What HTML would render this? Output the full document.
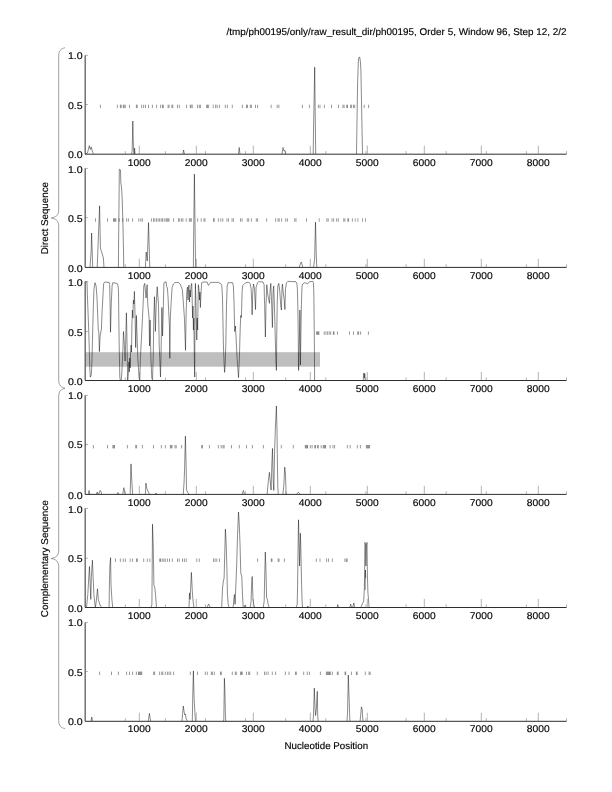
<!DOCTYPE html>
<html><head><meta charset="utf-8"><title>ph00195</title>
<style>
html,body{margin:0;padding:0;background:#fff}
svg{display:block}
text{font-family:"Liberation Sans",Arial,Helvetica,sans-serif;font-size:9.8px;fill:#000;text-rendering:geometricPrecision;stroke:#000;stroke-width:0.15px}
</style></head>
<body>
<svg width="612" height="792" viewBox="0 0 612 792">
<rect width="612" height="792" fill="#fff"/>
<text x="566.5" y="35.4" text-anchor="end" textLength="340" lengthAdjust="spacingAndGlyphs">/tmp/ph00195/only/raw_result_dir/ph00195, Order 5, Window 96, Step 12, 2/2</text>
<g id="panel0">
<path d="M100.4 104.7v3.4M117.4 104.7v3.4M120.4 104.7v3.4M121.2 104.7v3.4M123.3 104.7v3.4M124.1 104.7v3.4M125.3 104.7v3.4M129.5 104.7v3.4M136.4 104.7v3.4M137.2 104.7v3.4M141.6 104.7v3.4M143.6 104.7v3.4M145.5 104.7v3.4M148.5 104.7v3.4M152.4 104.7v3.4M156.6 104.7v3.4M160.6 104.7v3.4M162.5 104.7v3.4M163.3 104.7v3.4M168.1 104.7v3.4M169.1 104.7v3.4M171.8 104.7v3.4M172.8 104.7v3.4M177.5 104.7v3.4M179.3 104.7v3.4M186.5 104.7v3.4M190.3 104.7v3.4M191.1 104.7v3.4M192.3 104.7v3.4M197.5 104.7v3.4M199.3 104.7v3.4M200.4 104.7v3.4M206.6 104.7v3.4M207.5 104.7v3.4M208.6 104.7v3.4M213.2 104.7v3.4M215.6 104.7v3.4M217.1 104.7v3.4M219.4 104.7v3.4M225.3 104.7v3.4M227.4 104.7v3.4M232.3 104.7v3.4M242.4 104.7v3.4M246.5 104.7v3.4M247.5 104.7v3.4M250.3 104.7v3.4M251.4 104.7v3.4M255.5 104.7v3.4M257.6 104.7v3.4M271.2 104.7v3.4M277.2 104.7v3.4M278.9 104.7v3.4M302.4 104.7v3.4M309.4 104.7v3.4M318.4 104.7v3.4M320.0 104.7v3.4M324.4 104.7v3.4M331.5 104.7v3.4M338.5 104.7v3.4M342.9 104.7v3.4M344.1 104.7v3.4M346.7 104.7v3.4M347.5 104.7v3.4M350.6 104.7v3.4M351.6 104.7v3.4M353.5 104.7v3.4M354.7 104.7v3.4M364.2 104.7v3.4M368.6 104.7v3.4" stroke="#000" stroke-width="0.4" fill="none"/>
<polyline points="85.5,154.0 87.5,153.0 89.3,145.6 90.3,149.5 91.3,147.0 92.5,152.0 93.5,153.6" stroke="#000" stroke-width="0.46" fill="none" stroke-linejoin="round"/>
<polyline points="131.6,154.0 132.2,150.0 132.8,121.0 133.5,150.0 134.0,154.0" stroke="#000" stroke-width="0.46" fill="none" stroke-linejoin="round"/>
<polyline points="134.3,154.0 134.6,148.0 135.0,154.0" stroke="#000" stroke-width="0.46" fill="none" stroke-linejoin="round"/>
<polyline points="182.8,154.0 183.6,150.0 184.4,154.0" stroke="#000" stroke-width="0.46" fill="none" stroke-linejoin="round"/>
<polyline points="238.5,154.0 239.2,147.5 240.0,154.0" stroke="#000" stroke-width="0.46" fill="none" stroke-linejoin="round"/>
<polyline points="282.0,154.0 283.0,147.5 284.0,151.0 285.0,150.5 285.6,154.0" stroke="#000" stroke-width="0.46" fill="none" stroke-linejoin="round"/>
<polyline points="313.2,154.0 313.6,126.0 314.7,67.2 315.7,154.0" stroke="#000" stroke-width="0.46" fill="none" stroke-linejoin="round"/>
<polyline points="356.5,154.0 357.6,82.7 358.4,60.0 358.9,57.4 359.8,57.4 360.4,62.0 360.9,70.0 362.5,154.0" stroke="#000" stroke-width="0.46" fill="none" stroke-linejoin="round"/>
<path d="M85.15 55.3V154.2H566.5" stroke="#222" stroke-width="0.95" fill="none"/>
<path d="M85.15 55.3h3M85.15 104.5h3" stroke="#666" stroke-width="0.5" fill="none"/>
<path d="M139.3 154.2v-8.6M196.3 154.2v-8.6M253.3 154.2v-8.6M310.3 154.2v-8.6M367.3 154.2v-8.6M424.3 154.2v-8.6M481.3 154.2v-8.6M538.3 154.2v-8.6M125.3 154.2v-3.1M165.4 154.2v-3.1M205.5 154.2v-3.1M245.6 154.2v-3.1M285.7 154.2v-3.1M325.8 154.2v-3.1M365.9 154.2v-3.1M406.1 154.2v-3.1M446.2 154.2v-3.1M486.3 154.2v-3.1M526.4 154.2v-3.1M566.5 154.2v-3.1" stroke="#666" stroke-width="0.5" fill="none"/>
<text x="82.6" y="59.0" text-anchor="end" textLength="14.7" lengthAdjust="spacingAndGlyphs">1.0</text>
<text x="82.6" y="109.2" text-anchor="end" textLength="14.7" lengthAdjust="spacingAndGlyphs">0.5</text>
<text x="82.6" y="158.0" text-anchor="end" textLength="14.7" lengthAdjust="spacingAndGlyphs">0.0</text>
<text x="139.2" y="165.8" text-anchor="middle" textLength="22.8" lengthAdjust="spacingAndGlyphs">1000</text>
<text x="196.2" y="165.8" text-anchor="middle" textLength="22.8" lengthAdjust="spacingAndGlyphs">2000</text>
<text x="253.2" y="165.8" text-anchor="middle" textLength="22.8" lengthAdjust="spacingAndGlyphs">3000</text>
<text x="310.2" y="165.8" text-anchor="middle" textLength="22.8" lengthAdjust="spacingAndGlyphs">4000</text>
<text x="367.2" y="165.8" text-anchor="middle" textLength="22.8" lengthAdjust="spacingAndGlyphs">5000</text>
<text x="424.2" y="165.8" text-anchor="middle" textLength="22.8" lengthAdjust="spacingAndGlyphs">6000</text>
<text x="481.2" y="165.8" text-anchor="middle" textLength="22.8" lengthAdjust="spacingAndGlyphs">7000</text>
<text x="538.2" y="165.8" text-anchor="middle" textLength="22.8" lengthAdjust="spacingAndGlyphs">8000</text>
</g>
<g id="panel1">
<path d="M95.5 218.3v3.4M107.5 218.3v3.4M113.5 218.3v3.4M114.3 218.3v3.4M115.1 218.3v3.4M115.9 218.3v3.4M119.2 218.3v3.4M122.8 218.3v3.4M126.6 218.3v3.4M128.4 218.3v3.4M132.6 218.3v3.4M138.8 218.3v3.4M140.8 218.3v3.4M142.4 218.3v3.4M151.4 218.3v3.4M153.5 218.3v3.4M154.8 218.3v3.4M156.5 218.3v3.4M158.1 218.3v3.4M159.6 218.3v3.4M161.2 218.3v3.4M162.5 218.3v3.4M164.2 218.3v3.4M166.0 218.3v3.4M167.0 218.3v3.4M168.0 218.3v3.4M169.0 218.3v3.4M173.6 218.3v3.4M178.5 218.3v3.4M179.7 218.3v3.4M181.6 218.3v3.4M182.9 218.3v3.4M186.2 218.3v3.4M189.3 218.3v3.4M190.3 218.3v3.4M191.4 218.3v3.4M197.6 218.3v3.4M201.2 218.3v3.4M204.0 218.3v3.4M205.0 218.3v3.4M213.5 218.3v3.4M214.3 218.3v3.4M218.4 218.3v3.4M220.8 218.3v3.4M222.8 218.3v3.4M226.9 218.3v3.4M228.5 218.3v3.4M232.0 218.3v3.4M233.4 218.3v3.4M240.5 218.3v3.4M242.1 218.3v3.4M247.3 218.3v3.4M248.6 218.3v3.4M251.4 218.3v3.4M256.3 218.3v3.4M257.6 218.3v3.4M266.6 218.3v3.4M275.6 218.3v3.4M278.0 218.3v3.4M279.2 218.3v3.4M281.6 218.3v3.4M285.7 218.3v3.4M287.4 218.3v3.4M294.7 218.3v3.4M296.0 218.3v3.4M306.5 218.3v3.4M319.2 218.3v3.4M326.9 218.3v3.4M328.2 218.3v3.4M332.0 218.3v3.4M333.6 218.3v3.4M336.7 218.3v3.4M338.3 218.3v3.4M343.7 218.3v3.4M344.9 218.3v3.4M347.8 218.3v3.4M348.6 218.3v3.4M352.4 218.3v3.4M355.2 218.3v3.4M357.9 218.3v3.4M362.5 218.3v3.4M365.5 218.3v3.4" stroke="#000" stroke-width="0.4" fill="none"/>
<polyline points="90.0,267.5 91.2,250.0 91.6,233.0 92.7,267.5" stroke="#000" stroke-width="0.46" fill="none" stroke-linejoin="round"/>
<polyline points="97.2,267.5 99.6,205.8 100.4,248.0 103.4,257.8 104.0,267.5" stroke="#000" stroke-width="0.46" fill="none" stroke-linejoin="round"/>
<polyline points="118.4,267.5 118.6,241.0 119.0,205.0 119.3,169.2 120.5,170.0 120.8,182.6 121.6,188.0 122.2,199.0 122.9,222.0 123.5,250.0 123.8,267.5" stroke="#000" stroke-width="0.46" fill="none" stroke-linejoin="round"/>
<polyline points="145.4,267.5 146.2,252.0 147.3,261.0 148.5,222.6 149.8,267.5" stroke="#000" stroke-width="0.46" fill="none" stroke-linejoin="round"/>
<polyline points="193.4,267.5 193.5,248.8 194.4,174.1 195.6,267.5" stroke="#000" stroke-width="0.46" fill="none" stroke-linejoin="round"/>
<polyline points="299.3,267.5 300.3,264.0 301.2,262.0 302.0,264.0 302.9,267.5" stroke="#000" stroke-width="0.46" fill="none" stroke-linejoin="round"/>
<polyline points="313.5,267.5 314.6,259.4 315.5,222.2 316.3,256.0 316.8,267.5" stroke="#000" stroke-width="0.46" fill="none" stroke-linejoin="round"/>
<path d="M85.15 168.4V267.4H566.5" stroke="#222" stroke-width="0.95" fill="none"/>
<path d="M85.15 168.4h3M85.15 217.6h3" stroke="#666" stroke-width="0.5" fill="none"/>
<path d="M139.3 267.4v-8.6M196.3 267.4v-8.6M253.3 267.4v-8.6M310.3 267.4v-8.6M367.3 267.4v-8.6M424.3 267.4v-8.6M481.3 267.4v-8.6M538.3 267.4v-8.6M125.3 267.4v-3.1M165.4 267.4v-3.1M205.5 267.4v-3.1M245.6 267.4v-3.1M285.7 267.4v-3.1M325.8 267.4v-3.1M365.9 267.4v-3.1M406.1 267.4v-3.1M446.2 267.4v-3.1M486.3 267.4v-3.1M526.4 267.4v-3.1M566.5 267.4v-3.1" stroke="#666" stroke-width="0.5" fill="none"/>
<text x="82.6" y="172.9" text-anchor="end" textLength="14.7" lengthAdjust="spacingAndGlyphs">1.0</text>
<text x="82.6" y="221.7" text-anchor="end" textLength="14.7" lengthAdjust="spacingAndGlyphs">0.5</text>
<text x="82.6" y="271.7" text-anchor="end" textLength="14.7" lengthAdjust="spacingAndGlyphs">0.0</text>
<text x="139.2" y="279.0" text-anchor="middle" textLength="22.8" lengthAdjust="spacingAndGlyphs">1000</text>
<text x="196.2" y="279.0" text-anchor="middle" textLength="22.8" lengthAdjust="spacingAndGlyphs">2000</text>
<text x="253.2" y="279.0" text-anchor="middle" textLength="22.8" lengthAdjust="spacingAndGlyphs">3000</text>
<text x="310.2" y="279.0" text-anchor="middle" textLength="22.8" lengthAdjust="spacingAndGlyphs">4000</text>
<text x="367.2" y="279.0" text-anchor="middle" textLength="22.8" lengthAdjust="spacingAndGlyphs">5000</text>
<text x="424.2" y="279.0" text-anchor="middle" textLength="22.8" lengthAdjust="spacingAndGlyphs">6000</text>
<text x="481.2" y="279.0" text-anchor="middle" textLength="22.8" lengthAdjust="spacingAndGlyphs">7000</text>
<text x="538.2" y="279.0" text-anchor="middle" textLength="22.8" lengthAdjust="spacingAndGlyphs">8000</text>
</g>
<g id="panel2">
<rect x="85.5" y="352.2" width="234.5" height="14.5" fill="#bebebe"/>
<path d="M316.6 331.4v3.4M317.4 331.4v3.4M318.2 331.4v3.4M318.9 331.4v3.4M324.2 331.4v3.4M325.9 331.4v3.4M327.6 331.4v3.4M329.2 331.4v3.4M330.7 331.4v3.4M333.4 331.4v3.4M334.1 331.4v3.4M337.4 331.4v3.4M349.5 331.4v3.4M353.5 331.4v3.4M357.7 331.4v3.4M358.6 331.4v3.4M360.6 331.4v3.4M368.4 331.4v3.4" stroke="#000" stroke-width="0.4" fill="none"/>
<polyline points="85.6,281.8 87.0,282.0 87.4,295.4 88.0,311.5 88.7,328.9 89.4,353.0 89.8,369.0 90.4,377.1 91.4,374.4 92.0,358.3 92.7,331.5 93.4,304.8 94.0,288.7 95.0,282.7 96.1,286.0 97.0,298.0 97.8,318.0 98.3,330.2 98.8,332.0 99.4,351.6 100.1,336.0 101.4,329.0 102.1,311.5 103.2,291.4 103.7,283.4 104.8,282.0 109.2,282.5 109.7,284.7 110.1,305.0 110.5,332.2 111.2,305.0 112.1,286.0 112.8,282.7 117.1,283.4 118.1,286.0 118.5,291.4 118.8,318.0 119.2,345.0 119.8,377.0 120.3,380.4 121.2,380.4 121.9,371.7 122.8,351.6 123.5,331.5 124.2,342.0 125.1,361.0 125.6,345.0 126.4,312.8 126.8,331.5 127.3,358.0 127.7,380.4 128.4,371.7 128.9,362.0 129.3,372.0 129.7,358.0 130.2,368.0 130.6,352.0 131.1,345.0 131.5,352.0 131.9,325.0 132.4,310.1 132.9,318.0 133.4,300.0 133.9,304.0 134.4,291.4 135.1,318.0 135.7,347.6 136.4,315.5 137.8,358.3 139.1,377.0 139.8,380.4 140.4,358.3 141.8,331.5 143.1,304.8 143.8,286.0 144.7,283.4 146.1,298.0 147.1,284.7 147.8,304.8 149.1,318.0 149.5,346.0 150.1,320.0 150.9,358.3 151.8,378.4 152.5,379.7 153.2,358.3 153.8,318.0 154.5,296.7 155.4,331.5 156.2,304.8 157.2,286.7 158.5,304.8 159.2,345.0 160.5,377.0 161.2,345.0 161.9,307.5 162.6,336.0 163.9,283.4 164.7,282.0 166.1,282.0 166.7,286.7 167.4,288.0 168.1,298.0 168.7,311.5 169.4,325.0 169.8,358.3 170.3,318.0 171.2,302.0 172.1,287.4 173.4,284.0 174.8,282.7 176.8,282.4 178.8,282.7 180.1,284.0 181.5,287.4 182.4,290.0 183.5,304.8 184.5,319.5 185.5,350.3 186.2,311.5 186.8,291.4 187.5,287.0 188.0,300.0 188.5,288.0 189.0,285.0 189.5,302.0 190.0,290.0 190.5,297.0 191.0,286.0 191.7,283.4 192.2,300.0 192.6,318.0 193.0,306.0 193.4,330.0 193.8,318.0 194.2,348.0 194.7,377.0 195.0,318.0 195.4,283.4 195.9,300.0 196.3,322.0 196.8,340.0 197.2,318.0 197.7,330.0 198.0,304.8 198.4,284.7 199.0,290.0 199.5,300.0 199.9,292.0 200.4,307.5 201.1,291.4 201.7,282.7 203.0,282.0 207.1,282.0 208.4,285.4 209.8,283.4 210.5,282.4 218.5,282.4 220.5,283.4 221.8,285.4 222.5,298.0 222.9,318.0 223.4,345.0 224.1,363.7 224.6,372.4 225.2,363.7 225.8,345.0 226.5,304.8 227.2,286.0 228.1,282.7 232.6,282.7 233.4,286.0 234.1,304.8 234.7,331.5 235.4,326.0 236.1,338.2 237.1,358.3 238.1,371.7 238.5,377.7 239.4,358.3 240.1,331.5 240.7,315.5 241.4,317.5 242.1,291.4 242.8,285.4 244.8,283.4 246.8,282.4 248.8,282.4 250.1,283.4 251.1,288.7 251.9,304.8 252.1,314.8 252.8,291.4 253.5,284.0 254.5,288.7 255.5,309.5 256.1,287.4 257.5,282.7 258.8,281.7 263.0,282.0 264.1,284.7 264.6,304.8 265.4,337.0 266.0,304.8 266.8,284.7 267.7,294.0 268.4,298.0 269.5,303.4 270.0,291.4 270.8,283.4 271.7,304.8 272.4,327.5 273.1,291.4 273.7,286.0 274.4,304.8 275.1,331.5 275.8,358.3 276.4,370.4 276.8,331.5 277.2,304.8 277.8,286.0 278.8,283.4 279.8,291.4 280.7,304.8 281.4,310.0 282.0,288.7 282.4,284.0 283.4,294.0 284.2,299.4 284.9,309.5 285.5,288.7 286.5,282.7 287.8,281.4 296.0,281.7 296.8,283.4 297.4,288.7 297.8,304.8 298.2,331.5 298.6,370.4 299.4,340.0 299.9,310.0 300.4,365.0 301.4,304.8 302.0,286.0 302.7,284.0 304.7,282.7 306.7,283.4 307.4,284.0 309.4,281.7 312.8,281.4 313.4,282.7 313.8,291.4 314.1,318.0 314.4,345.0 314.6,380.4" stroke="#000" stroke-width="0.46" fill="none" stroke-linejoin="round"/>
<polyline points="363.2,380.4 363.8,373.0 364.3,378.0 364.8,373.5 365.2,380.4" stroke="#000" stroke-width="0.46" fill="none" stroke-linejoin="round"/>
<path d="M85.15 281.4V380.5H566.5" stroke="#222" stroke-width="0.95" fill="none"/>
<path d="M85.15 281.4h3M85.15 331.4h3" stroke="#666" stroke-width="0.5" fill="none"/>
<path d="M139.3 380.5v-8.6M196.3 380.5v-8.6M253.3 380.5v-8.6M310.3 380.5v-8.6M367.3 380.5v-8.6M424.3 380.5v-8.6M481.3 380.5v-8.6M538.3 380.5v-8.6M125.3 380.5v-3.1M165.4 380.5v-3.1M205.5 380.5v-3.1M245.6 380.5v-3.1M285.7 380.5v-3.1M325.8 380.5v-3.1M365.9 380.5v-3.1M406.1 380.5v-3.1M446.2 380.5v-3.1M486.3 380.5v-3.1M526.4 380.5v-3.1M566.5 380.5v-3.1" stroke="#666" stroke-width="0.5" fill="none"/>
<text x="82.6" y="285.8" text-anchor="end" textLength="14.7" lengthAdjust="spacingAndGlyphs">1.0</text>
<text x="82.6" y="335.5" text-anchor="end" textLength="14.7" lengthAdjust="spacingAndGlyphs">0.5</text>
<text x="82.6" y="384.7" text-anchor="end" textLength="14.7" lengthAdjust="spacingAndGlyphs">0.0</text>
<text x="139.2" y="392.1" text-anchor="middle" textLength="22.8" lengthAdjust="spacingAndGlyphs">1000</text>
<text x="196.2" y="392.1" text-anchor="middle" textLength="22.8" lengthAdjust="spacingAndGlyphs">2000</text>
<text x="253.2" y="392.1" text-anchor="middle" textLength="22.8" lengthAdjust="spacingAndGlyphs">3000</text>
<text x="310.2" y="392.1" text-anchor="middle" textLength="22.8" lengthAdjust="spacingAndGlyphs">4000</text>
<text x="367.2" y="392.1" text-anchor="middle" textLength="22.8" lengthAdjust="spacingAndGlyphs">5000</text>
<text x="424.2" y="392.1" text-anchor="middle" textLength="22.8" lengthAdjust="spacingAndGlyphs">6000</text>
<text x="481.2" y="392.1" text-anchor="middle" textLength="22.8" lengthAdjust="spacingAndGlyphs">7000</text>
<text x="538.2" y="392.1" text-anchor="middle" textLength="22.8" lengthAdjust="spacingAndGlyphs">8000</text>
</g>
<g id="panel3">
<path d="M93.4 445.0v3.4M107.5 445.0v3.4M112.9 445.0v3.4M113.7 445.0v3.4M114.5 445.0v3.4M127.4 445.0v3.4M135.7 445.0v3.4M136.6 445.0v3.4M142.4 445.0v3.4M153.5 445.0v3.4M161.4 445.0v3.4M165.3 445.0v3.4M170.4 445.0v3.4M171.2 445.0v3.4M172.0 445.0v3.4M175.0 445.0v3.4M176.2 445.0v3.4M181.6 445.0v3.4M201.7 445.0v3.4M202.4 445.0v3.4M209.4 445.0v3.4M218.4 445.0v3.4M221.2 445.0v3.4M223.0 445.0v3.4M224.1 445.0v3.4M231.5 445.0v3.4M239.3 445.0v3.4M246.5 445.0v3.4M252.4 445.0v3.4M263.4 445.0v3.4M281.3 445.0v3.4M293.3 445.0v3.4M305.3 445.0v3.4M306.1 445.0v3.4M306.9 445.0v3.4M307.5 445.0v3.4M310.3 445.0v3.4M312.1 445.0v3.4M314.7 445.0v3.4M315.5 445.0v3.4M317.6 445.0v3.4M318.3 445.0v3.4M321.2 445.0v3.4M323.3 445.0v3.4M324.1 445.0v3.4M324.9 445.0v3.4M325.6 445.0v3.4M330.1 445.0v3.4M333.0 445.0v3.4M334.6 445.0v3.4M347.3 445.0v3.4M350.2 445.0v3.4M357.3 445.0v3.4M360.4 445.0v3.4M366.4 445.0v3.4M367.2 445.0v3.4M368.0 445.0v3.4M368.8 445.0v3.4M369.6 445.0v3.4" stroke="#000" stroke-width="0.4" fill="none"/>
<polyline points="88.5,494.2 89.0,490.5 89.8,494.2" stroke="#000" stroke-width="0.46" fill="none" stroke-linejoin="round"/>
<polyline points="96.3,494.2 97.2,492.0 98.0,494.2" stroke="#000" stroke-width="0.46" fill="none" stroke-linejoin="round"/>
<polyline points="98.8,494.2 99.9,490.5 100.9,491.3 101.7,494.2" stroke="#000" stroke-width="0.46" fill="none" stroke-linejoin="round"/>
<polyline points="117.0,494.2 117.9,492.5 118.8,494.2" stroke="#000" stroke-width="0.46" fill="none" stroke-linejoin="round"/>
<polyline points="122.8,494.2 123.8,487.7 124.4,489.7 125.1,494.2" stroke="#000" stroke-width="0.46" fill="none" stroke-linejoin="round"/>
<polyline points="130.2,494.2 130.5,481.5 131.0,463.9 131.6,478.0 132.0,484.0 132.6,494.2" stroke="#000" stroke-width="0.46" fill="none" stroke-linejoin="round"/>
<polyline points="145.4,494.2 145.9,483.1 146.7,488.0 147.3,489.7 148.3,492.0 149.4,494.2" stroke="#000" stroke-width="0.46" fill="none" stroke-linejoin="round"/>
<polyline points="155.2,494.2 156.0,493.0 156.8,494.2" stroke="#000" stroke-width="0.46" fill="none" stroke-linejoin="round"/>
<polyline points="183.3,494.2 184.1,481.5 184.6,468.4 185.4,436.1 186.2,468.4 186.5,489.7 187.4,492.0 189.0,494.2" stroke="#000" stroke-width="0.46" fill="none" stroke-linejoin="round"/>
<polyline points="242.1,494.2 243.4,490.5 244.5,494.2" stroke="#000" stroke-width="0.46" fill="none" stroke-linejoin="round"/>
<polyline points="267.1,494.2 268.3,481.5 269.4,472.3 270.3,482.0 271.1,490.0 271.8,465.0 272.5,448.5 273.2,480.0 273.8,490.5 274.5,455.0 275.3,430.0 276.4,405.9 277.0,430.0 277.4,462.0 277.8,487.0 278.3,494.2" stroke="#000" stroke-width="0.46" fill="none" stroke-linejoin="round"/>
<polyline points="282.9,494.2 283.9,484.5 284.7,467.1 285.4,473.0 286.1,492.5 286.7,494.2" stroke="#000" stroke-width="0.46" fill="none" stroke-linejoin="round"/>
<polyline points="296.8,494.2 298.2,492.2 300.3,494.2" stroke="#000" stroke-width="0.46" fill="none" stroke-linejoin="round"/>
<path d="M85.15 395.4V494.4H566.5" stroke="#222" stroke-width="0.95" fill="none"/>
<path d="M85.15 395.4h3M85.15 444.5h3" stroke="#666" stroke-width="0.5" fill="none"/>
<path d="M139.3 494.4v-8.6M196.3 494.4v-8.6M253.3 494.4v-8.6M310.3 494.4v-8.6M367.3 494.4v-8.6M424.3 494.4v-8.6M481.3 494.4v-8.6M538.3 494.4v-8.6M125.3 494.4v-3.1M165.4 494.4v-3.1M205.5 494.4v-3.1M245.6 494.4v-3.1M285.7 494.4v-3.1M325.8 494.4v-3.1M365.9 494.4v-3.1M406.1 494.4v-3.1M446.2 494.4v-3.1M486.3 494.4v-3.1M526.4 494.4v-3.1M566.5 494.4v-3.1" stroke="#666" stroke-width="0.5" fill="none"/>
<text x="82.6" y="398.9" text-anchor="end" textLength="14.7" lengthAdjust="spacingAndGlyphs">1.0</text>
<text x="82.6" y="448.4" text-anchor="end" textLength="14.7" lengthAdjust="spacingAndGlyphs">0.5</text>
<text x="82.6" y="498.7" text-anchor="end" textLength="14.7" lengthAdjust="spacingAndGlyphs">0.0</text>
<text x="139.2" y="506.0" text-anchor="middle" textLength="22.8" lengthAdjust="spacingAndGlyphs">1000</text>
<text x="196.2" y="506.0" text-anchor="middle" textLength="22.8" lengthAdjust="spacingAndGlyphs">2000</text>
<text x="253.2" y="506.0" text-anchor="middle" textLength="22.8" lengthAdjust="spacingAndGlyphs">3000</text>
<text x="310.2" y="506.0" text-anchor="middle" textLength="22.8" lengthAdjust="spacingAndGlyphs">4000</text>
<text x="367.2" y="506.0" text-anchor="middle" textLength="22.8" lengthAdjust="spacingAndGlyphs">5000</text>
<text x="424.2" y="506.0" text-anchor="middle" textLength="22.8" lengthAdjust="spacingAndGlyphs">6000</text>
<text x="481.2" y="506.0" text-anchor="middle" textLength="22.8" lengthAdjust="spacingAndGlyphs">7000</text>
<text x="538.2" y="506.0" text-anchor="middle" textLength="22.8" lengthAdjust="spacingAndGlyphs">8000</text>
</g>
<g id="panel4">
<path d="M115.5 558.5v3.4M120.4 558.5v3.4M123.3 558.5v3.4M125.4 558.5v3.4M130.2 558.5v3.4M132.6 558.5v3.4M136.5 558.5v3.4M137.4 558.5v3.4M143.7 558.5v3.4M147.3 558.5v3.4M149.8 558.5v3.4M159.7 558.5v3.4M160.5 558.5v3.4M162.2 558.5v3.4M163.8 558.5v3.4M165.3 558.5v3.4M167.4 558.5v3.4M169.5 558.5v3.4M172.3 558.5v3.4M177.5 558.5v3.4M179.2 558.5v3.4M182.5 558.5v3.4M184.4 558.5v3.4M186.2 558.5v3.4M196.8 558.5v3.4M199.3 558.5v3.4M213.5 558.5v3.4M215.1 558.5v3.4M216.8 558.5v3.4M219.5 558.5v3.4M257.6 558.5v3.4M271.3 558.5v3.4M272.0 558.5v3.4M278.2 558.5v3.4M279.0 558.5v3.4M284.4 558.5v3.4M316.3 558.5v3.4M320.0 558.5v3.4M326.6 558.5v3.4M328.5 558.5v3.4M332.3 558.5v3.4M344.9 558.5v3.4M346.3 558.5v3.4M347.2 558.5v3.4" stroke="#000" stroke-width="0.4" fill="none"/>
<polyline points="86.5,607.3 87.8,594.5 89.0,573.3 89.5,566.4 90.3,588.0 90.8,599.4 91.4,576.5 92.4,560.2 93.1,576.5 93.9,594.5 95.0,605.1 95.5,607.0 96.3,601.0 97.5,588.8 98.3,599.4 99.3,602.7 100.4,606.0 102.0,607.3" stroke="#000" stroke-width="0.46" fill="none" stroke-linejoin="round"/>
<polyline points="109.1,607.3 109.4,584.7 109.9,565.1 110.6,557.7 111.0,584.7 111.9,599.4 112.7,607.3" stroke="#000" stroke-width="0.46" fill="none" stroke-linejoin="round"/>
<polyline points="151.1,607.3 151.9,604.3 152.2,568.4 152.5,524.2 153.2,543.9 153.9,584.7 154.8,588.0 155.5,594.5 156.5,607.3" stroke="#000" stroke-width="0.46" fill="none" stroke-linejoin="round"/>
<polyline points="189.0,607.3 189.5,592.9 190.1,599.4 190.8,584.7 191.4,572.4 192.3,591.2 193.1,601.0 193.9,607.3" stroke="#000" stroke-width="0.46" fill="none" stroke-linejoin="round"/>
<polyline points="207.0,607.3 208.6,604.0 210.2,607.3" stroke="#000" stroke-width="0.46" fill="none" stroke-linejoin="round"/>
<polyline points="221.7,607.3 222.5,588.0 223.3,581.4 224.1,578.2 224.8,552.0 225.4,529.1 226.2,543.9 226.9,568.4 227.4,592.9 228.2,604.3 229.0,607.3" stroke="#000" stroke-width="0.46" fill="none" stroke-linejoin="round"/>
<polyline points="233.1,607.3 233.9,599.4 234.4,594.5 235.1,604.3 235.9,584.7 236.7,565.1 237.5,535.7 238.5,512.0 239.2,522.6 240.0,543.9 240.8,573.3 241.8,576.5 242.4,592.9 243.2,607.3" stroke="#000" stroke-width="0.46" fill="none" stroke-linejoin="round"/>
<polyline points="244.2,607.3 245.0,605.1 245.9,607.3" stroke="#000" stroke-width="0.46" fill="none" stroke-linejoin="round"/>
<polyline points="250.3,607.3 251.1,601.0 251.6,584.7 252.2,576.5 253.0,599.4 253.9,605.1 254.8,607.3" stroke="#000" stroke-width="0.46" fill="none" stroke-linejoin="round"/>
<polyline points="263.3,607.3 264.2,601.0 264.6,581.4 265.3,552.0 265.9,568.4 266.6,597.8 267.4,599.4 268.2,604.3 269.1,607.3" stroke="#000" stroke-width="0.46" fill="none" stroke-linejoin="round"/>
<polyline points="296.3,607.3 297.2,604.3 297.6,584.7 298.0,552.0 298.5,519.8 299.1,543.9 299.6,566.0 300.4,533.2 300.9,552.0 301.6,584.7 302.1,601.0 302.5,607.3" stroke="#000" stroke-width="0.46" fill="none" stroke-linejoin="round"/>
<polyline points="307.0,607.3 307.8,606.0 308.6,607.3" stroke="#000" stroke-width="0.46" fill="none" stroke-linejoin="round"/>
<polyline points="337.2,607.3 337.7,604.6 338.5,607.3" stroke="#000" stroke-width="0.46" fill="none" stroke-linejoin="round"/>
<polyline points="349.9,607.3 350.6,604.0 351.6,607.3 352.7,607.3 353.9,603.0 354.5,607.3" stroke="#000" stroke-width="0.46" fill="none" stroke-linejoin="round"/>
<polyline points="360.9,607.3 362.5,603.5 363.7,601.0 364.3,590.0 364.6,575.0 364.9,542.4 365.5,544.0 365.9,566.0 366.4,546.0 367.0,542.4 367.4,575.0 367.9,592.0 368.6,601.0 369.1,607.3" stroke="#000" stroke-width="0.46" fill="none" stroke-linejoin="round"/>
<polyline points="365.2,590.0 365.4,570.0 365.7,578.0" stroke="#000" stroke-width="0.46" fill="none" stroke-linejoin="round"/>
<path d="M85.15 508.4V607.5H566.5" stroke="#222" stroke-width="0.95" fill="none"/>
<path d="M85.15 508.4h3M85.15 558.3h3" stroke="#666" stroke-width="0.5" fill="none"/>
<path d="M139.3 607.5v-8.6M196.3 607.5v-8.6M253.3 607.5v-8.6M310.3 607.5v-8.6M367.3 607.5v-8.6M424.3 607.5v-8.6M481.3 607.5v-8.6M538.3 607.5v-8.6M125.3 607.5v-3.1M165.4 607.5v-3.1M205.5 607.5v-3.1M245.6 607.5v-3.1M285.7 607.5v-3.1M325.8 607.5v-3.1M365.9 607.5v-3.1M406.1 607.5v-3.1M446.2 607.5v-3.1M486.3 607.5v-3.1M526.4 607.5v-3.1M566.5 607.5v-3.1" stroke="#666" stroke-width="0.5" fill="none"/>
<text x="82.6" y="512.6" text-anchor="end" textLength="14.7" lengthAdjust="spacingAndGlyphs">1.0</text>
<text x="82.6" y="561.6" text-anchor="end" textLength="14.7" lengthAdjust="spacingAndGlyphs">0.5</text>
<text x="82.6" y="612.0" text-anchor="end" textLength="14.7" lengthAdjust="spacingAndGlyphs">0.0</text>
<text x="139.2" y="619.1" text-anchor="middle" textLength="22.8" lengthAdjust="spacingAndGlyphs">1000</text>
<text x="196.2" y="619.1" text-anchor="middle" textLength="22.8" lengthAdjust="spacingAndGlyphs">2000</text>
<text x="253.2" y="619.1" text-anchor="middle" textLength="22.8" lengthAdjust="spacingAndGlyphs">3000</text>
<text x="310.2" y="619.1" text-anchor="middle" textLength="22.8" lengthAdjust="spacingAndGlyphs">4000</text>
<text x="367.2" y="619.1" text-anchor="middle" textLength="22.8" lengthAdjust="spacingAndGlyphs">5000</text>
<text x="424.2" y="619.1" text-anchor="middle" textLength="22.8" lengthAdjust="spacingAndGlyphs">6000</text>
<text x="481.2" y="619.1" text-anchor="middle" textLength="22.8" lengthAdjust="spacingAndGlyphs">7000</text>
<text x="538.2" y="619.1" text-anchor="middle" textLength="22.8" lengthAdjust="spacingAndGlyphs">8000</text>
</g>
<g id="panel5">
<path d="M99.6 671.6v3.4M111.5 671.6v3.4M118.4 671.6v3.4M126.6 671.6v3.4M129.5 671.6v3.4M132.6 671.6v3.4M136.4 671.6v3.4M138.5 671.6v3.4M139.3 671.6v3.4M140.1 671.6v3.4M140.9 671.6v3.4M141.7 671.6v3.4M153.6 671.6v3.4M154.6 671.6v3.4M159.6 671.6v3.4M161.7 671.6v3.4M162.8 671.6v3.4M165.3 671.6v3.4M167.4 671.6v3.4M169.0 671.6v3.4M170.7 671.6v3.4M173.6 671.6v3.4M190.3 671.6v3.4M197.5 671.6v3.4M205.3 671.6v3.4M207.3 671.6v3.4M211.4 671.6v3.4M212.4 671.6v3.4M214.3 671.6v3.4M220.5 671.6v3.4M221.3 671.6v3.4M232.3 671.6v3.4M235.3 671.6v3.4M236.3 671.6v3.4M240.6 671.6v3.4M241.4 671.6v3.4M242.2 671.6v3.4M246.5 671.6v3.4M248.7 671.6v3.4M249.7 671.6v3.4M257.3 671.6v3.4M264.5 671.6v3.4M266.1 671.6v3.4M268.2 671.6v3.4M272.3 671.6v3.4M275.6 671.6v3.4M285.4 671.6v3.4M289.0 671.6v3.4M295.6 671.6v3.4M296.3 671.6v3.4M303.7 671.6v3.4M307.3 671.6v3.4M309.4 671.6v3.4M320.4 671.6v3.4M326.4 671.6v3.4M327.2 671.6v3.4M328.0 671.6v3.4M328.8 671.6v3.4M329.6 671.6v3.4M330.3 671.6v3.4M332.3 671.6v3.4M337.3 671.6v3.4M338.2 671.6v3.4M345.0 671.6v3.4M345.7 671.6v3.4M351.4 671.6v3.4M356.4 671.6v3.4M357.2 671.6v3.4M365.3 671.6v3.4M369.1 671.6v3.4M370.1 671.6v3.4" stroke="#000" stroke-width="0.4" fill="none"/>
<polyline points="91.1,721.0 91.8,717.0 92.4,721.0" stroke="#000" stroke-width="0.46" fill="none" stroke-linejoin="round"/>
<polyline points="148.3,721.0 149.4,713.4 150.6,721.0" stroke="#000" stroke-width="0.46" fill="none" stroke-linejoin="round"/>
<polyline points="182.0,721.0 182.6,713.4 183.3,706.0 184.1,711.8 184.9,715.0 185.4,714.2 186.2,719.0 187.4,721.0" stroke="#000" stroke-width="0.46" fill="none" stroke-linejoin="round"/>
<polyline points="192.3,721.0 192.7,698.7 193.4,670.9 194.1,698.7 194.4,703.6 195.0,715.0 195.5,721.0" stroke="#000" stroke-width="0.46" fill="none" stroke-linejoin="round"/>
<polyline points="223.3,721.0 223.8,720.0 224.1,698.7 224.4,678.3 224.9,690.5 225.4,715.0 225.8,721.0" stroke="#000" stroke-width="0.46" fill="none" stroke-linejoin="round"/>
<polyline points="313.0,721.0 313.5,715.0 314.0,698.7 314.3,688.1 315.0,706.9 315.6,715.5 316.4,708.5 317.3,691.3 317.7,715.0 318.1,721.0" stroke="#000" stroke-width="0.46" fill="none" stroke-linejoin="round"/>
<polyline points="347.0,721.0 347.5,713.4 348.0,690.5 348.3,675.0 349.0,695.4 349.6,713.4 349.9,721.0" stroke="#000" stroke-width="0.46" fill="none" stroke-linejoin="round"/>
<polyline points="360.1,721.0 360.7,715.0 361.4,706.9 362.2,709.3 362.5,715.0 363.0,721.0" stroke="#000" stroke-width="0.46" fill="none" stroke-linejoin="round"/>
<path d="M85.15 622.4V721.3H566.5" stroke="#222" stroke-width="0.95" fill="none"/>
<path d="M85.15 622.4h3M85.15 671.4h3" stroke="#666" stroke-width="0.5" fill="none"/>
<path d="M139.3 721.3v-8.6M196.3 721.3v-8.6M253.3 721.3v-8.6M310.3 721.3v-8.6M367.3 721.3v-8.6M424.3 721.3v-8.6M481.3 721.3v-8.6M538.3 721.3v-8.6M125.3 721.3v-3.1M165.4 721.3v-3.1M205.5 721.3v-3.1M245.6 721.3v-3.1M285.7 721.3v-3.1M325.8 721.3v-3.1M365.9 721.3v-3.1M406.1 721.3v-3.1M446.2 721.3v-3.1M486.3 721.3v-3.1M526.4 721.3v-3.1M566.5 721.3v-3.1" stroke="#666" stroke-width="0.5" fill="none"/>
<text x="82.6" y="625.8" text-anchor="end" textLength="14.7" lengthAdjust="spacingAndGlyphs">1.0</text>
<text x="82.6" y="676.1" text-anchor="end" textLength="14.7" lengthAdjust="spacingAndGlyphs">0.5</text>
<text x="82.6" y="724.9" text-anchor="end" textLength="14.7" lengthAdjust="spacingAndGlyphs">0.0</text>
<text x="139.2" y="731.8" text-anchor="middle" textLength="22.8" lengthAdjust="spacingAndGlyphs">1000</text>
<text x="196.2" y="731.8" text-anchor="middle" textLength="22.8" lengthAdjust="spacingAndGlyphs">2000</text>
<text x="253.2" y="731.8" text-anchor="middle" textLength="22.8" lengthAdjust="spacingAndGlyphs">3000</text>
<text x="310.2" y="731.8" text-anchor="middle" textLength="22.8" lengthAdjust="spacingAndGlyphs">4000</text>
<text x="367.2" y="731.8" text-anchor="middle" textLength="22.8" lengthAdjust="spacingAndGlyphs">5000</text>
<text x="424.2" y="731.8" text-anchor="middle" textLength="22.8" lengthAdjust="spacingAndGlyphs">6000</text>
<text x="481.2" y="731.8" text-anchor="middle" textLength="22.8" lengthAdjust="spacingAndGlyphs">7000</text>
<text x="538.2" y="731.8" text-anchor="middle" textLength="22.8" lengthAdjust="spacingAndGlyphs">8000</text>
</g>
<path d="M65 47.7 C61 48.7 58.7 50.7 58.7 55.7 V210.0 C58.7 215.0 56 217.2 51.2 218.0 C56 218.8 58.7 221.0 58.7 226.0 V380.3 C58.7 385.3 61 387.3 65 388.3" stroke="#777" stroke-width="0.7" fill="none"/>
<path d="M65 388.3 C61 389.3 58.7 391.3 58.7 396.3 V550.5 C58.7 555.5 56 557.7 51.2 558.5 C56 559.3 58.7 561.5 58.7 566.5 V720.7 C58.7 725.7 61 727.7 65 728.7" stroke="#777" stroke-width="0.7" fill="none"/>
<text transform="translate(48.3 254.3) rotate(-90)" textLength="72.3" lengthAdjust="spacingAndGlyphs">Direct Sequence</text>
<text transform="translate(48.3 617.2) rotate(-90)" textLength="117" lengthAdjust="spacingAndGlyphs">Complementary Sequence</text>
<text x="284.5" y="748.9" textLength="83.6" lengthAdjust="spacingAndGlyphs">Nucleotide Position</text>
</svg>
</body></html>
